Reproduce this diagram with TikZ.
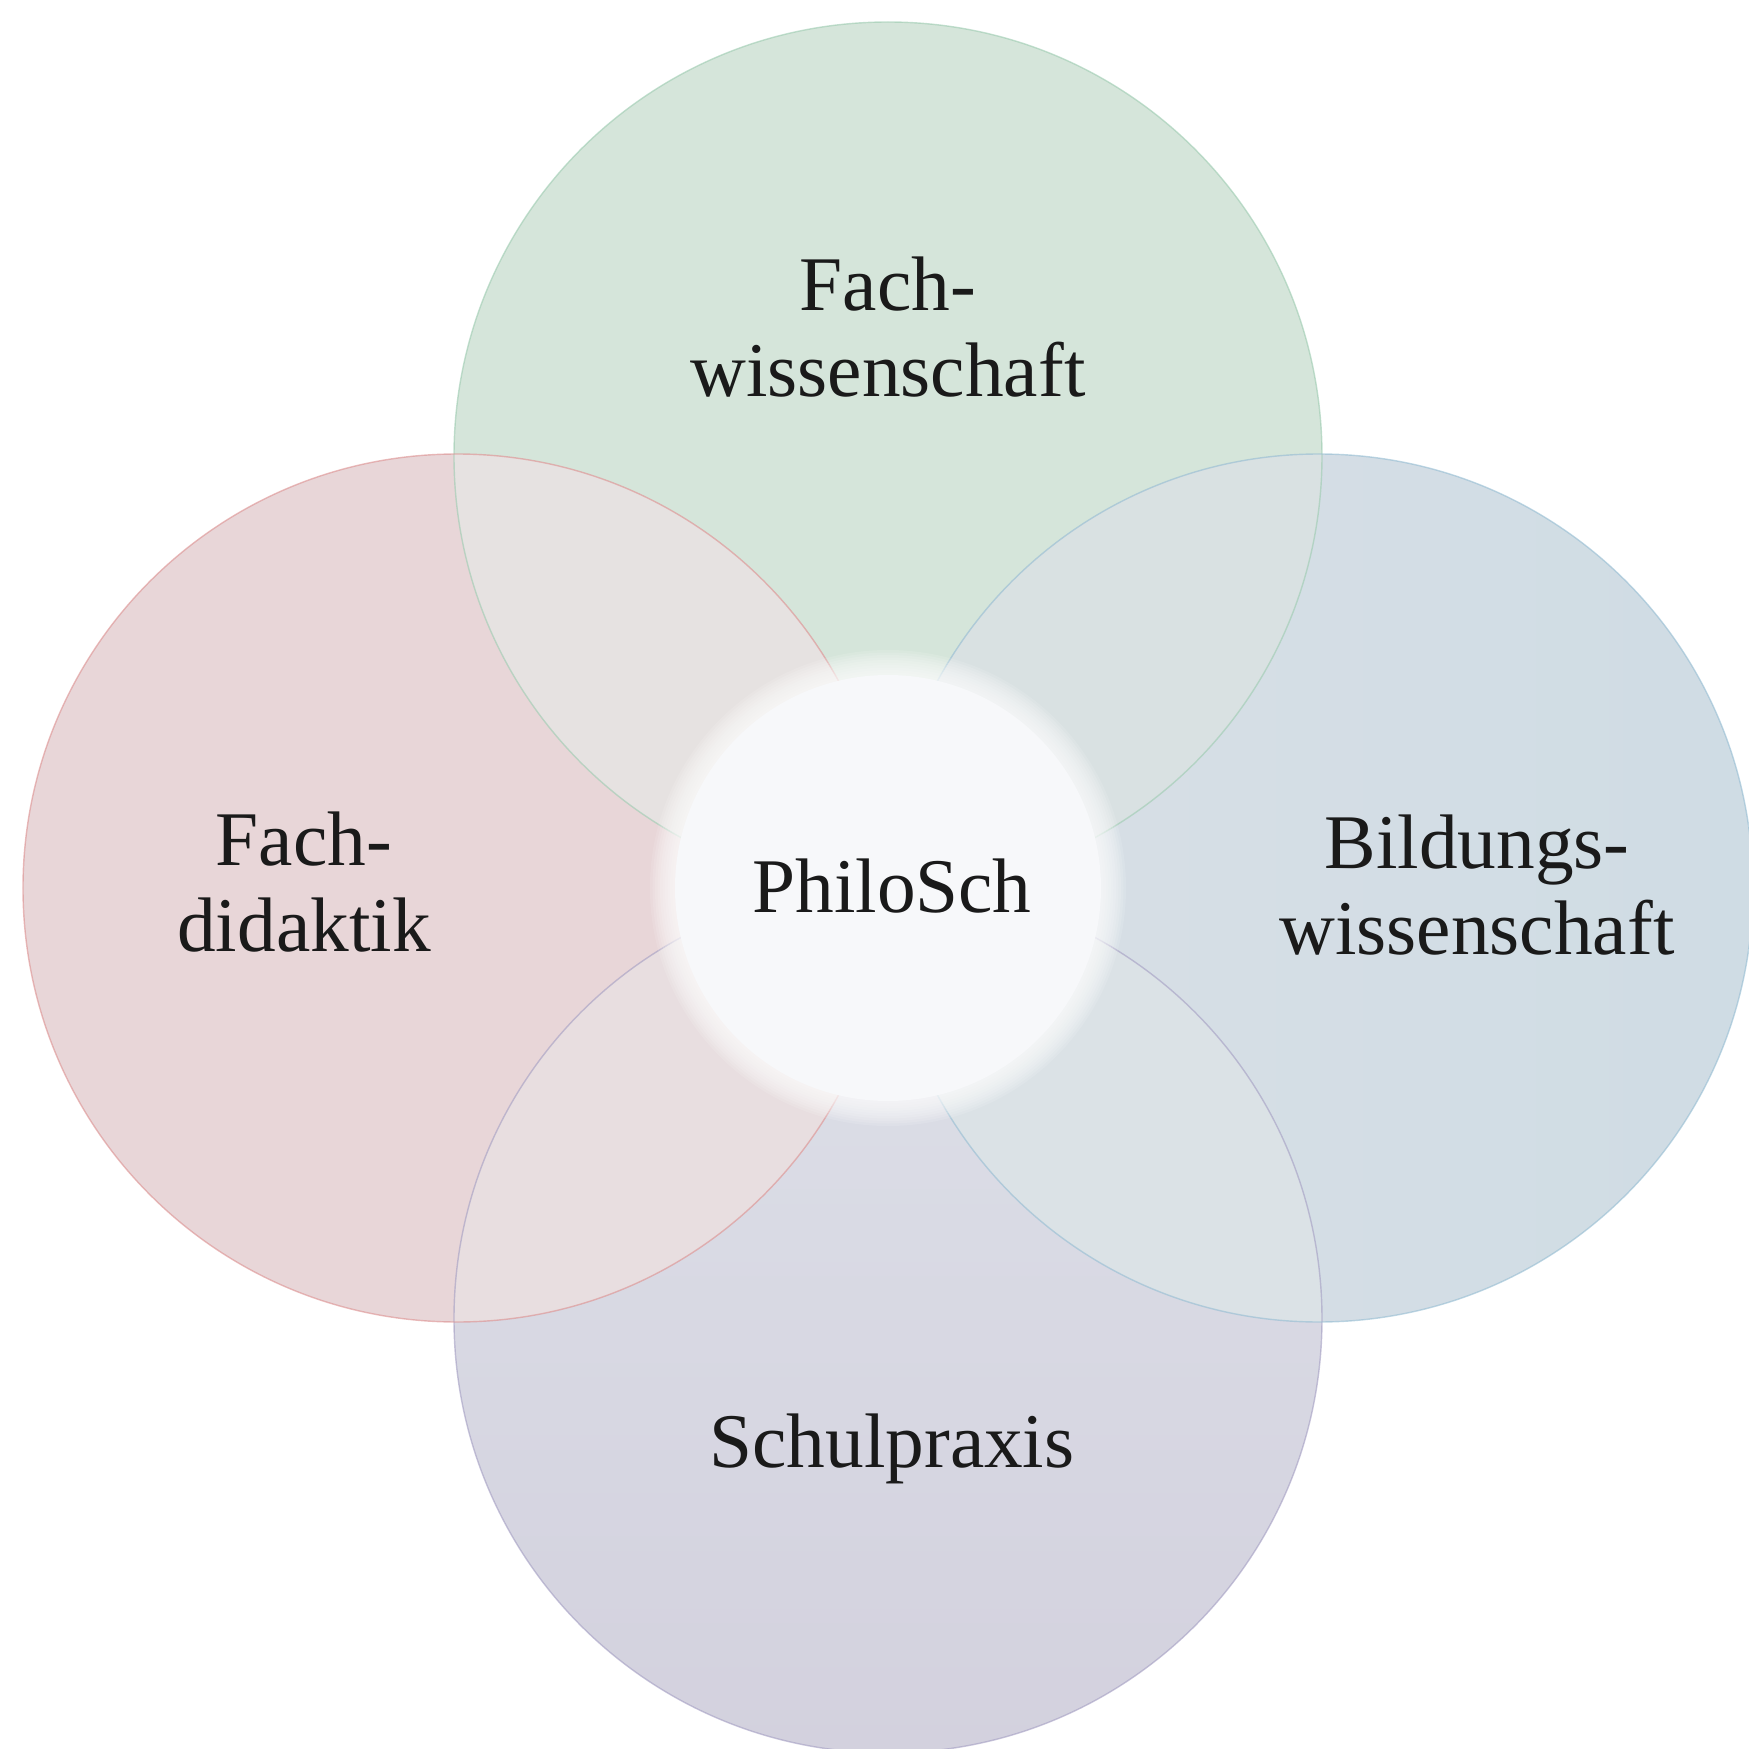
\documentclass[tikz,border=0pt]{standalone}
\usepackage{fontspec}
\setmainfont{Liberation Serif}
\usepackage{tikz}

\definecolor{fwgreen}{HTML}{D5E5DA}
\definecolor{fdpink}{HTML}{E8D6D8}
\definecolor{bwblueL}{HTML}{D9DFE6}
\definecolor{bwblueR}{HTML}{CFDCE4}
\definecolor{spviolT}{HTML}{DDE0E8}
\definecolor{spviolB}{HTML}{D3D1DE}
\definecolor{lensGP}{HTML}{E6E2E1}
\definecolor{lensGB}{HTML}{D9E1E2}
\definecolor{lensPV}{HTML}{E8DEE0}
\definecolor{lensBV}{HTML}{DBE2E6}
\definecolor{fwline}{HTML}{9CCBB0}
\definecolor{fdline}{HTML}{DC8F8F}
\definecolor{bwline}{HTML}{94BCD2}
\definecolor{spline}{HTML}{A39DC2}
\definecolor{philowhite}{HTML}{F7F8FA}
\definecolor{labeltext}{HTML}{1A1A1A}

\begin{document}
\begin{tikzpicture}[
    labeltext/.style={font=\fontsize{22}{24.5}\selectfont, align=center, inner sep=0pt, text=labeltext},
    rim/.style={line width=0.4pt, opacity=0.6}
  ]
    \useasboundingbox (-8.88,-8.61) rectangle (8.61,8.88);
    \clip (-8.88,-8.61) rectangle (8.61,8.88);
    \coordinate (fw) at (0,4.32);
    \coordinate (fd) at (-4.31,0);
    \coordinate (bw) at (4.31,0);
    \coordinate (sp) at (0,-4.31);
    % the four circles
    \fill [fwgreen] (fw) circle (4.34);
    \shade [top color=spviolT, bottom color=spviolB] (sp) circle (4.34);
    \shade [left color=bwblueL, right color=bwblueR] (bw) circle (4.34);
    \fill [fdpink] (fd) circle (4.34);
    % overlaps
    \begin{scope}
      \clip (fw) circle (4.34);
      \fill [lensGP] (fd) circle (4.34);
      \fill [lensGB] (bw) circle (4.34);
    \end{scope}
    \begin{scope}
      \clip (sp) circle (4.34);
      \fill [lensPV] (fd) circle (4.34);
      \fill [lensBV] (bw) circle (4.34);
    \end{scope}
    % rims
    \draw [rim, fwline] (fw) circle (4.34);
    \draw [rim, spline] (sp) circle (4.34);
    \draw [rim, bwline] (bw) circle (4.34);
    \draw [rim, fdline] (fd) circle (4.34);
    % centre
    \foreach \i in {0,...,9}
      \fill [white, opacity=0.12] (0,0) circle ({2.38-0.025*\i});
    \fill [philowhite] (0,0) circle (2.13);
    \node [labeltext, anchor=base] (philosch) at (0.04,-0.24) {PhiloSch};
    \node [labeltext] (fwlabel) at (0,5.61) {Fach-\\wissenschaft};
    \node [labeltext] (fdlabel) at (-5.84,0.06) {Fach-\\didaktik};
    \node [labeltext] (bwlabel) at (5.89,0.03) {Bildungs-\\wissenschaft};
    \node [labeltext, anchor=base] (splabel) at (0.04,-5.79) {Schulpraxis};
\end{tikzpicture}
\end{document}
